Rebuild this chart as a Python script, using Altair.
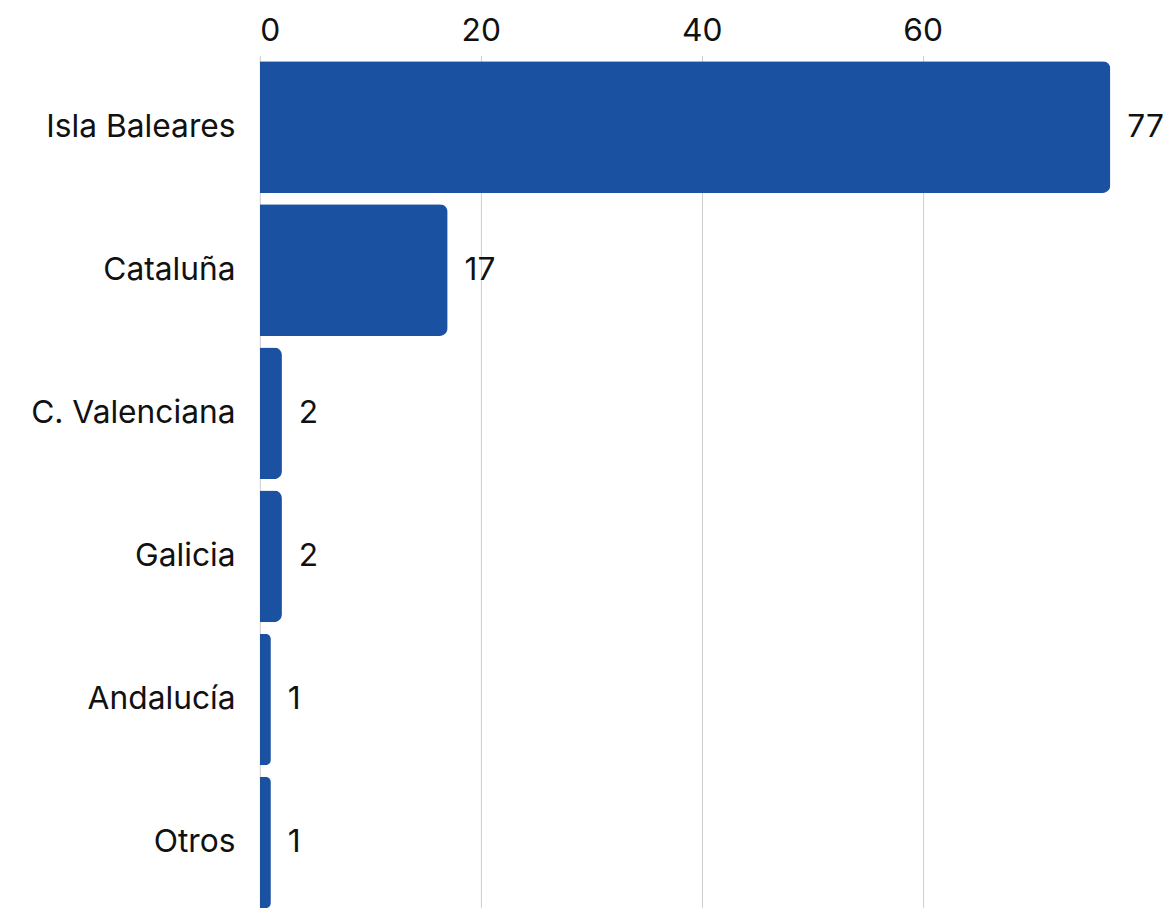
import altair as alt
import pandas as pd

regions = ["Isla Baleares", "Cataluña", "C. Valenciana", "Galicia", "Andalucía", "Otros"]
values = [77, 17, 2, 2, 1, 1]

df = pd.DataFrame({"region": regions, "value": values})

FONT = "Inter"
FS = 32

y_enc = alt.Y("region:N", sort=regions, title=None,
              scale=alt.Scale(paddingInner=0.08, paddingOuter=0.04),
              axis=alt.Axis(labelFontSize=FS, labelFont=FONT, labelColor="#111",
                            labelPadding=25, labelLimit=0, ticks=False, domain=False))
x_scale = alt.Scale(domain=[0, 77], nice=False)

bars = alt.Chart(df).mark_bar(color="#1B51A1", cornerRadiusTopRight=8,
                              cornerRadiusBottomRight=8).encode(
    x=alt.X("value:Q", scale=x_scale, title=None,
            axis=alt.Axis(orient="top", values=[0, 20, 40, 60], labelFontSize=FS,
                          labelFont=FONT, labelColor="#111", ticks=False, domain=False,
                          labelPadding=8, gridColor="#cccccc", gridWidth=1)),
    y=y_enc,
)

labels = alt.Chart(df).mark_text(align="left", baseline="middle", dx=17,
                                 fontSize=FS, font=FONT, color="#111").encode(
    x=alt.X("value:Q", scale=x_scale),
    y=alt.Y("region:N", sort=regions),
    text="value:Q",
)

chart = (bars + labels).properties(
    width=858, height=866,
    padding={"left": 22, "top": 3, "right": 0, "bottom": 0}
).configure_view(stroke=None)

chart.save("out.html", embed_options={"renderer": "svg", "actions": False})
